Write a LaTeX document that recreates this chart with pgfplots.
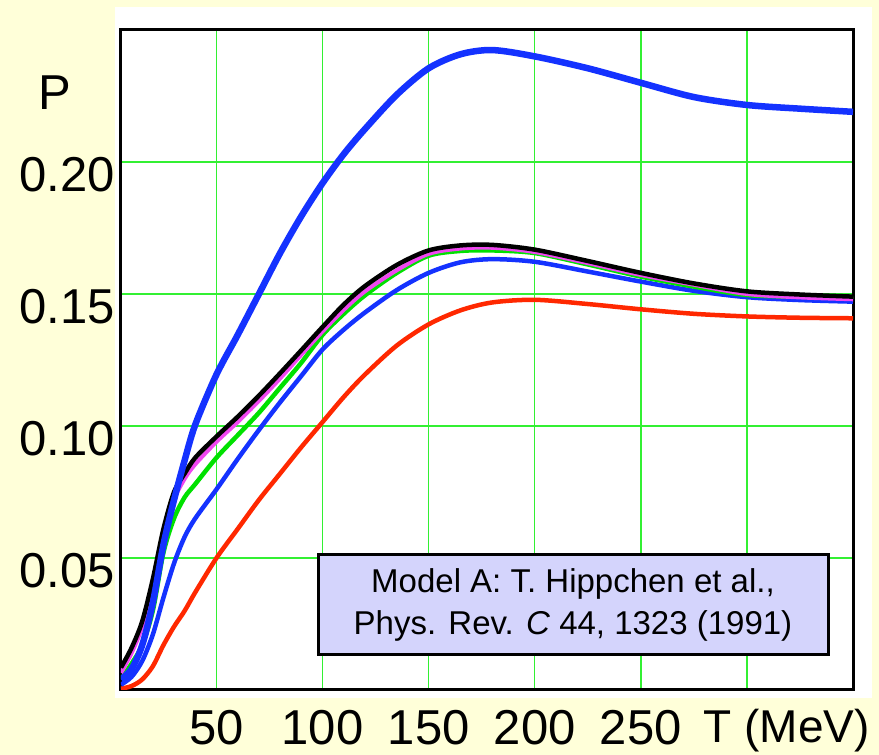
\documentclass[border=0pt]{standalone}
\usepackage{fontspec}
\setmainfont{Liberation Sans}
\usepackage{pgfplots}
\usepackage{pgfplotstable}
\pgfplotsset{compat=1.18}

\definecolor{bgyellow}{RGB}{255,255,217}
\definecolor{gridgreen}{RGB}{50,240,50}
\definecolor{cblue}{RGB}{20,50,255}
\definecolor{cred}{RGB}{255,40,0}
\definecolor{cgreen}{RGB}{0,225,0}
\definecolor{cmag}{RGB}{240,70,240}
\definecolor{boxfill}{RGB}{212,212,252}

% T (MeV) vs P for the six curves
\pgfplotstableread{
T    bthick  black   mag     green   bthin   red
5    0.004   0.0085  0.0065  0.004   0.002   0.0005
10   0.008   0.016   0.014   0.010   0.005   0.0015
15   0.017   0.026   0.024   0.017   0.011   0.004
20   0.033   0.042   0.040   0.030   0.021   0.009
25   0.055   0.061   0.058   0.052   0.035   0.017
30   0.072   0.075   0.072   0.065   0.048   0.024
35   0.087   0.082   0.080   0.073   0.058   0.030
40   0.1005  0.088   0.0855  0.078   0.065   0.037
50   0.1195  0.096   0.094   0.088   0.076   0.050
60   0.1345  0.1035  0.1015  0.0965  0.0875  0.061
70   0.150   0.1115  0.1095  0.105   0.0985  0.072
80   0.1655  0.120   0.118   0.1145  0.109   0.082
90   0.1795  0.1287  0.127   0.124   0.119   0.092
100  0.192   0.1375  0.1358  0.1345  0.129   0.1015
110  0.203   0.146   0.144   0.1425  0.1365  0.111
120  0.2125  0.153   0.151   0.1495  0.143   0.1195
135  0.2255  0.161   0.159   0.158   0.1515  0.1305
150  0.2355  0.1665  0.1652  0.1645  0.158   0.1385
165  0.2408  0.1684  0.1672  0.1663  0.162   0.1438
180  0.2424  0.1686  0.1675  0.1665  0.1632  0.1468
200  0.240   0.1668  0.1659  0.1655  0.1622  0.1478
225  0.2355  0.1625  0.1617  0.1612  0.1585  0.1462
250  0.230   0.158   0.1572  0.1566  0.1547  0.1442
275  0.2246  0.154   0.1535  0.1528  0.1512  0.1425
300  0.2216  0.151   0.150   0.1496  0.1488  0.1415
325  0.2202  0.1498  0.1487  0.149   0.1477  0.141
350  0.219   0.149   0.148   0.1484  0.1471  0.1408
}\datatable

\begin{document}
\begin{tikzpicture}
\fill[bgyellow] (0,0) rectangle (879pt,755pt);
\fill[white] (115pt,57pt) rectangle (872pt,748pt);
\begin{axis}[
    at={(121pt,65pt)}, anchor=south west,
    scale only axis,
    width=732pt, height=660pt,
    xmin=5, xmax=350, ymin=0, ymax=0.25,
    xtick={50,100,150,200,250,300},
    xticklabels={50,100,150,200,250,{}},
    ytick={0.05,0.10,0.15,0.20},
    yticklabels={0.05,0.10,0.15,0.20},
    grid=major,
    major grid style={gridgreen, line width=1.5pt},
    axis line style={black, line width=3pt},
    tick style={draw=none},
    tick label style={font=\fontsize{49}{55}\selectfont},
    xticklabel style={inner sep=0pt, anchor=north, yshift=-20pt},
    yticklabel style={inner sep=0pt, anchor=east, xshift=-6pt, yshift=-13pt},
    every axis plot/.append style={smooth, tension=0.5, mark=none},
]
\addplot[cred, line width=4.5pt] table[x=T, y=red] {\datatable};
\addplot[cblue, line width=4.5pt] table[x=T, y=bthin] {\datatable};
\addplot[cgreen, line width=4.5pt] table[x=T, y=green] {\datatable};
\addplot[cmag, line width=4pt] table[x=T, y=mag] {\datatable};
\addplot[black, line width=4.5pt] table[x=T, y=black] {\datatable};
\addplot[cblue, line width=6.5pt] table[x=T, y=bthick] {\datatable};
\end{axis}
\node[anchor=base, font=\fontsize{49}{55}\selectfont] at (55pt,645pt) {P};
\node[anchor=base east, inner sep=0pt, font=\fontsize{46}{55}\selectfont] at (870pt,12pt) {T (MeV)};
\node[draw=black, line width=3pt, fill=boxfill, minimum width=510pt, minimum height=100pt,
      align=center, font=\fontsize{33}{42}\selectfont] at (573pt,150pt)
      {Model A: T. Hippchen et al.,\\ Phys. Rev. \textit{C} 44, 1323 (1991)};
\pgfresetboundingbox
\useasboundingbox (0,0) rectangle (879pt,755pt);
\end{tikzpicture}
\end{document}
